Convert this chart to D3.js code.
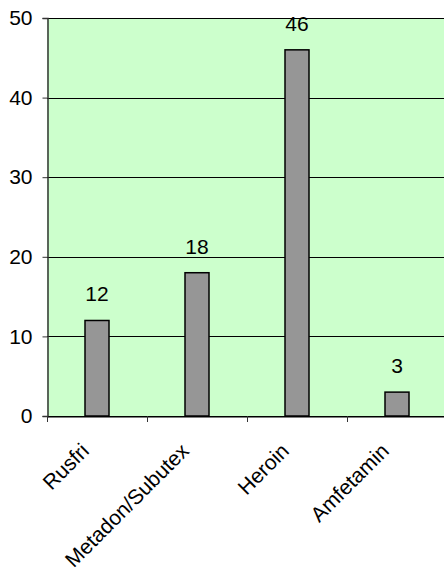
<!DOCTYPE html>
<html>
<head>
<meta charset="utf-8">
<script src="https://cdn.jsdelivr.net/npm/d3@7"></script>
<style>
  html, body { margin: 0; padding: 0; background: #fff; }
  svg { display: block; font-family: "Liberation Sans", Arial, sans-serif; }
</style>
</head>
<body>
<script>
var categories = ['Rusfri', 'Metadon/Subutex', 'Heroin', 'Amfetamin'];
var values = [12, 18, 46, 3];
var yTicks = [0, 10, 20, 30, 40, 50];

var _w = 444, _h = 569;
var pLeft = 47, pTop = 18, pRight = 447, pBottom = 416;
var fontSize = '21px';

var svg = d3.select('body')
    .append('svg')
    .attr('width', _w)
    .attr('height', _h);

var x = d3.scaleBand()
    .domain(categories)
    .range([pLeft, pRight]);

var y = d3.scaleLinear()
    .domain([0, 50])
    .range([pBottom, pTop]);

// plot background
svg.append('rect')
    .attr('x', pLeft)
    .attr('y', pTop)
    .attr('width', pRight - pLeft)
    .attr('height', pBottom - pTop)
    .attr('fill', '#ccffcc');

// gridlines
svg.append('g')
    .selectAll('line')
    .data(yTicks)
    .enter()
    .append('line')
    .attr('x1', pLeft)
    .attr('x2', pRight)
    .attr('y1', function(d) { return Math.round(y(d)) + 0.5; })
    .attr('y2', function(d) { return Math.round(y(d)) + 0.5; })
    .attr('stroke', '#000')
    .attr('stroke-width', 1);

// bars
var barW = 24;
svg.append('g')
    .selectAll('rect')
    .data(values)
    .enter()
    .append('rect')
    .attr('x', function(d, i) { return x(categories[i]) + x.bandwidth() / 2 - barW / 2; })
    .attr('y', function(d) { return y(d); })
    .attr('width', barW)
    .attr('height', function(d) { return y(0) - y(d); })
    .attr('fill', '#969696')
    .attr('stroke', '#000')
    .attr('stroke-width', 1.5);

// value labels
svg.append('g')
    .selectAll('text')
    .data(values)
    .enter()
    .append('text')
    .attr('x', function(d, i) { return x(categories[i]) + x.bandwidth() / 2; })
    .attr('y', function(d) { return y(d) - 19; })
    .attr('text-anchor', 'middle')
    .attr('font-size', fontSize)
    .attr('fill', '#000')
    .text(function(d) { return d; });

// y axis
var yAxis = d3.axisLeft(y)
    .tickValues(yTicks)
    .tickSize(5)
    .tickPadding(10);
var gy = svg.append('g')
    .attr('transform', 'translate(' + (pLeft + 0.5) + ',0)')
    .call(yAxis);
gy.select('.domain').attr('stroke', '#333').attr('stroke-width', 1.5);
gy.selectAll('.tick line').attr('stroke', '#333');
gy.selectAll('.tick text')
    .attr('font-size', fontSize)
    .attr('font-family', '"Liberation Sans", Arial, sans-serif')
    .attr('fill', '#000');

// x axis
var xAxis = d3.axisBottom(x)
    .tickSize(0)
    .tickFormat('');
svg.append('g')
    .attr('transform', 'translate(0,' + (pBottom + 0.5) + ')')
    .call(xAxis)
    .select('.domain').attr('stroke', '#000');

// category tick marks at band edges
svg.append('g')
    .selectAll('line')
    .data(categories)
    .enter()
    .append('line')
    .attr('x1', function(d) { return Math.round(x(d)) + 0.5; })
    .attr('x2', function(d) { return Math.round(x(d)) + 0.5; })
    .attr('y1', pBottom)
    .attr('y2', pBottom + 6)
    .attr('stroke', '#333');

// category labels
svg.append('g')
    .selectAll('text')
    .data(categories)
    .enter()
    .append('text')
    .attr('transform', function(d) {
        return 'translate(' + (x(d) + x.bandwidth() / 2 - 12) + ',447) rotate(-45)';
    })
    .attr('text-anchor', 'end')
    .attr('dy', '0.35em')
    .attr('font-size', fontSize)
    .attr('fill', '#000')
    .text(function(d) { return d; });
</script>
</body>
</html>
